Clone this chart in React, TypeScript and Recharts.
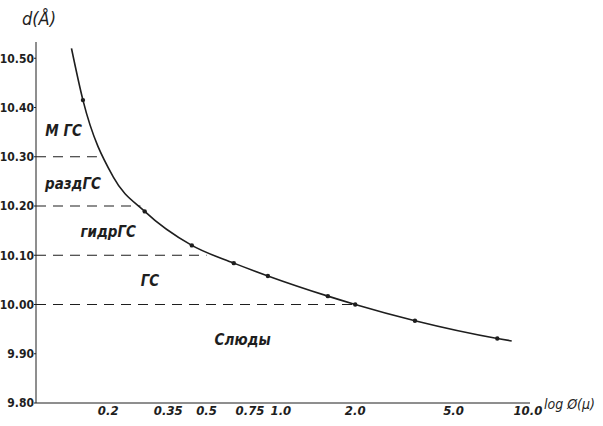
import React from "react";
import { LineChart, Line, XAxis, YAxis, ReferenceLine, ReferenceDot } from "recharts";

// curve through the measured points, d (Å) against grain size (μ)
const grainSize = [0.142, 0.158, 0.2095, 0.281, 0.436, 0.645, 0.886, 1.55, 2.0, 3.49, 7.52, 8.6];
const dSpacing = [10.52, 10.415, 10.259, 10.189, 10.12, 10.084, 10.058, 10.017, 10.0, 9.967, 9.931, 9.926];
const isMeasured = [false, true, false, true, true, true, true, true, true, true, true, false];

const xTicks = [0.2, 0.35, 0.5, 0.75, 1, 2, 5, 10];
const xTickLabels = ["0.2", "0.35", "0.5", "0.75", "1.0", "2.0", "5.0", "10.0"];
const yTicks = [9.8, 9.9, 10.0, 10.1, 10.2, 10.3, 10.4, 10.5];

// dashed zone boundaries: d level and where the dash stops
const boundaryD = [10.3, 10.2, 10.1, 10.0];
const boundaryEnd = [0.18, 0.27, 0.5, 2.0];

const zoneNames = ["М ГС", "раздГС", "гидрГС", "ГС", "Слюды"];
const zoneSize = [0.132, 0.144, 0.2, 0.295, 0.7];
const zoneD = [10.352, 10.244, 10.147, 10.047, 9.927];

const X_MIN = 0.102;
const X_MAX = 10.2;

const data = grainSize.map((x, i) => ({ x, d: dSpacing[i], m: isMeasured[i] }));

const hand = "'DejaVu Sans Condensed', 'Liberation Sans Narrow', 'DejaVu Sans', sans-serif";
const ink = "#1e1e1e";

const PointDot = (props: any) => {
  const { cx, cy, payload, index } = props;
  if (!payload.m) return <g key={index} />;
  return <circle key={index} cx={cx} cy={cy} r={2.2} fill={ink} />;
};

const ZoneLabel = (text: string) => (props: any) => {
  const { viewBox } = props;
  const cx = viewBox.x + (viewBox.width || 0) / 2;
  const cy = viewBox.y + (viewBox.height || 0) / 2;
  return (
    <text
      x={cx}
      y={cy}
      textAnchor="middle"
      dominantBaseline="central"
      fontFamily={hand}
      fontStyle="italic"
      fontWeight="bold"
      fontSize={15}
      fill={ink}
    >
      {text}
    </text>
  );
};

export default function App() {
  return (
    <div style={{ position: "absolute", left: 0, top: 0, width: 603, height: 426, background: "#fff" }}>
      <LineChart width={603} height={426} data={data} margin={{ top: 42, right: 73, left: 0, bottom: 0 }}>
        <XAxis
          dataKey="x"
          type="number"
          scale="log"
          domain={[X_MIN, X_MAX]}
          allowDataOverflow
          ticks={xTicks}
          tickFormatter={(v: number) => xTickLabels[xTicks.indexOf(v)] ?? String(v)}
          height={23}
          tickSize={0}
          tickMargin={3}
          stroke={ink}
          tick={{ fontSize: 13, fill: ink, fontFamily: hand, fontStyle: "italic", fontWeight: "bold" }}
        />
        <YAxis
          type="number"
          domain={[9.8, 10.533]}
          allowDataOverflow
          ticks={yTicks}
          tickFormatter={(v: number) => v.toFixed(2)}
          width={36}
          tickSize={2}
          tickMargin={0}
          stroke={ink}
          tick={{ fontSize: 12, fill: ink, fontFamily: hand, fontWeight: "bold" }}
        />
        {boundaryD.map((d, i) => (
          <ReferenceLine
            key={"b" + i}
            segment={[
              { x: X_MIN, y: d },
              { x: boundaryEnd[i], y: d },
            ]}
            stroke={ink}
            strokeWidth={1.2}
            strokeDasharray="10 7"
            ifOverflow="visible"
          />
        ))}
        {zoneNames.map((name, i) => (
          <ReferenceDot
            key={"z" + i}
            x={zoneSize[i]}
            y={zoneD[i]}
            r={0}
            fill="none"
            stroke="none"
            label={ZoneLabel(name)}
          />
        ))}
        <Line
          type="monotone"
          dataKey="d"
          stroke={ink}
          strokeWidth={1.6}
          dot={PointDot}
          activeDot={false}
          isAnimationActive={false}
        />
      </LineChart>
      <div
        style={{
          position: "absolute",
          left: 22,
          top: 8,
          fontFamily: hand,
          fontStyle: "italic",
          fontSize: 18,
          color: ink,
          lineHeight: "22px",
        }}
      >
        d(Å)
      </div>
      <div
        style={{
          position: "absolute",
          left: 544,
          top: 395,
          fontFamily: hand,
          fontStyle: "italic",
          fontSize: 14,
          color: ink,
          lineHeight: "18px",
          whiteSpace: "nowrap",
        }}
      >
        log Ø(μ)
      </div>
    </div>
  );
}
